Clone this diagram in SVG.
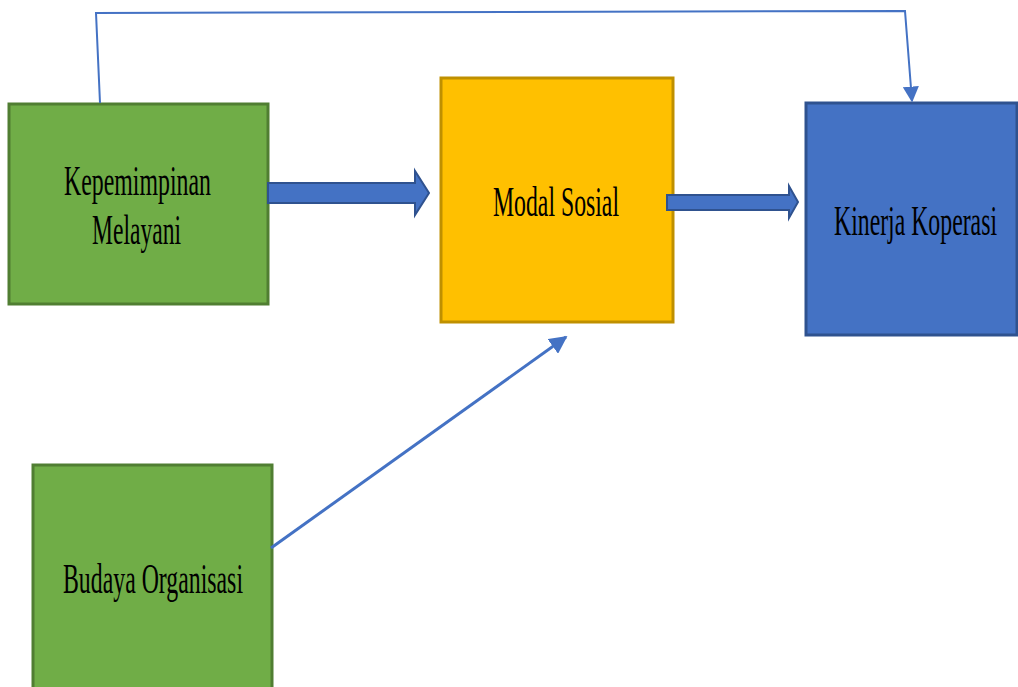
<svg xmlns="http://www.w3.org/2000/svg" width="1018" height="687" viewBox="0 0 1018 687">
<style>
.lbl{font-family:"Liberation Serif","Times New Roman",serif;font-size:42px;fill:#000}
.green{fill:#70ad47;stroke:#507e32;stroke-width:3}
.conn{fill:none;stroke:#4472c4;stroke-width:2}
.block{fill:#4472c4;stroke:#2f528f;stroke-width:2}
</style>
<defs>
<marker id="ah" viewBox="0 0 10 10" refX="9" refY="5" markerWidth="6" markerHeight="6" orient="auto" markerUnits="strokeWidth">
<path d="M0,0 L10,5 L0,10 z" fill="#4472c4"/>
</marker>
<marker id="ah2" viewBox="0 0 10 10" refX="9" refY="5" markerWidth="8" markerHeight="8" orient="auto" markerUnits="strokeWidth">
<path d="M0,0 L10,5 L0,10 z" fill="#4472c4"/>
</marker>
</defs>
<rect width="1018" height="687" fill="#fff"/>
<g id="kepemimpinan">
<rect class="green" x="9" y="104" width="259" height="200"/>
<text class="lbl" x="64" y="195" textLength="147" lengthAdjust="spacingAndGlyphs">Kepemimpinan</text>
<text class="lbl" x="92" y="244" textLength="89" lengthAdjust="spacingAndGlyphs">Melayani</text>
</g>
<g id="modal">
<rect x="441" y="78" width="232" height="244" fill="#ffc000" stroke="#bf9000" stroke-width="3"/>
<text class="lbl" x="493" y="216" textLength="126" lengthAdjust="spacingAndGlyphs">Modal Sosial</text>
</g>
<g id="kinerja">
<rect x="806" y="103" width="211" height="232" fill="#4472c4" stroke="#2f528f" stroke-width="3"/>
<text class="lbl" x="834" y="235" textLength="163" lengthAdjust="spacingAndGlyphs">Kinerja Koperasi</text>
</g>
<g id="budaya">
<rect class="green" x="33" y="465" width="239" height="230"/>
<text class="lbl" x="63" y="593" textLength="180" lengthAdjust="spacingAndGlyphs">Budaya Organisasi</text>
</g>
<g id="connectors">
<polyline class="conn" points="100,103 96,13 905,11 912,101" marker-end="url(#ah2)"/>
<line class="conn" x1="271" y1="548" x2="566" y2="337" marker-end="url(#ah)" style="stroke-width:3"/>
<path class="block" d="M268,183 L415,183 L415,171 L429,193 L415,215 L415,203 L268,203 z"/>
<path class="block" d="M667,195 L789,195 L789,186 L798,202 L789,218 L789,210 L667,210 z"/>
</g>
</svg>
